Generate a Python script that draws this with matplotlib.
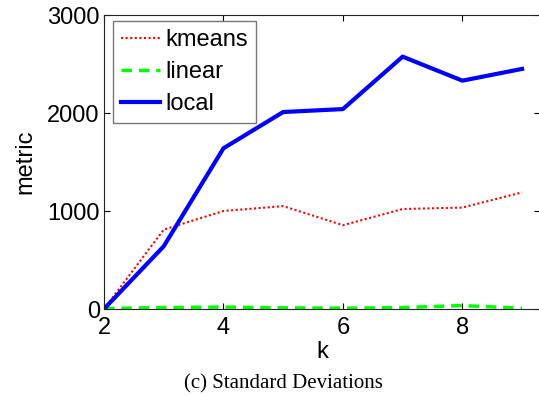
import matplotlib
matplotlib.use("Agg")
import matplotlib.pyplot as plt

k = [2, 3, 4, 5, 6, 7, 8, 9]
kmeans = [0, 810, 1000, 1050, 855, 1020, 1035, 1190]
linear = [5, 15, 20, 12, 8, 15, 35, 8]
local = [0, 640, 1640, 2010, 2040, 2575, 2330, 2450]

plt.rcParams['font.family'] = ['Liberation Sans', 'DejaVu Sans']

fig = plt.figure(figsize=(5.39, 3.96), dpi=100)
ax = fig.add_axes([104/539, 1 - 309/396, (540 - 104)/539, (309 - 15)/396])

ax.plot(k, kmeans, color='#ff0000', linestyle=(0, (1, 1.2)), linewidth=1.5, label='kmeans')
ax.plot(k, linear, color='#00ff00', linestyle=(0, (3, 2)), linewidth=2.5, label='linear')
ax.plot(k, local, color='#0000ff', linestyle='-', linewidth=3, label='local')

ax.set_xlim(2, 9.3)
ax.set_ylim(0, 3000)
ax.set_xticks([2, 4, 6, 8])
ax.set_yticks([0, 1000, 2000, 3000])
ax.tick_params(direction='in', length=4, width=0.8, top=True, right=True,
               labelsize=17, colors='black')
ax.tick_params(axis='x', pad=6)
ax.tick_params(axis='y', pad=3)
for s in ax.spines.values():
    s.set_linewidth(0.8)
    s.set_color('#222222')

ax.set_xlabel('k', fontsize=17, labelpad=1)
ax.set_ylabel('metric', fontsize=17, labelpad=8)

leg = ax.legend(loc='upper left', bbox_to_anchor=((113 - 104)/436, 1 - (21 - 15)/294),
                fontsize=17, frameon=True, fancybox=False, borderaxespad=0,
                handlelength=1.65, handletextpad=0.2, labelspacing=0.42,
                borderpad=0.35)
leg.get_frame().set_edgecolor('#555555')
leg.get_frame().set_linewidth(1.0)

fig.text(283/539, 1 - 384/396, '(c) Standard Deviations', ha='center', va='center',
         fontsize=15, family='Liberation Serif')

fig.savefig('out.png', dpi=100)
